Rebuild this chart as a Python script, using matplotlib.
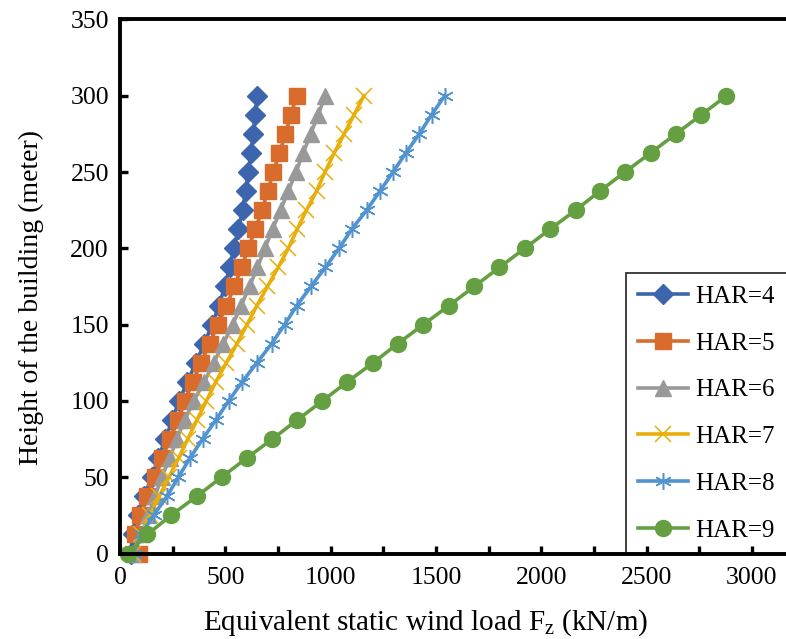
import matplotlib.pyplot as plt
from matplotlib.ticker import MultipleLocator

plt.rcParams['font.family'] = ['Liberation Serif', 'DejaVu Serif']
plt.rcParams['mathtext.fontset'] = 'custom'
plt.rcParams['mathtext.rm'] = 'Liberation Serif'

# heights of the building (m)
height = [0, 12.5, 25, 37.5, 50, 62.5, 75, 87.5, 100, 112.5, 125, 137.5, 150,
          162.5, 175, 187.5, 200, 212.5, 225, 237.5, 250, 262.5, 275, 287.5, 300]

# equivalent static wind load (kN/m) for each HAR
har4 = [50, 60, 85, 115, 150, 182, 215, 248, 280, 320, 360, 400, 437,
        470, 497, 520, 540, 562, 582, 596, 609, 622, 633, 642, 651]
har5 = [90, 72, 95, 127, 166, 201, 237, 277, 308, 345, 385, 425, 465,
        505, 543, 577, 609, 642, 674, 701, 728, 757, 785, 812, 838]
har6 = [60, 103, 134, 166, 198, 237, 269, 308, 350, 400, 445, 490, 535,
        575, 615, 652, 688, 724, 762, 799, 835, 870, 905, 941, 974]
har7 = [60, 100, 142, 186, 232, 278, 322, 365, 410, 455, 505, 555, 603,
        650, 700, 751, 799, 841, 885, 933, 973, 1017, 1064, 1111, 1158]
har8 = [65, 100, 160, 223, 277, 332, 392, 455, 516, 580, 650, 720, 781,
        840, 906, 975, 1040, 1100, 1171, 1234, 1296, 1357, 1421, 1479, 1542]
har9 = [36, 130, 242, 364, 482, 601, 723, 841, 961, 1079, 1202, 1318, 1440,
        1562, 1682, 1801, 1922, 2041, 2163, 2278, 2397, 2519, 2639, 2760, 2879]

labels = ["HAR=4", "HAR=5", "HAR=6", "HAR=7", "HAR=8", "HAR=9"]
colors = ["#3D65AE", "#D96C2C", "#999999", "#E8AF0A", "#5193CF", "#64A042"]


def create_visualization():
    fig = plt.figure(figsize=(7.86, 6.39), dpi=100)
    ax = fig.add_axes([0.1527, 0.1338, 0.8575, 0.8357])

    series = [har4, har5, har6, har7, har8, har9]
    styles = [
        dict(marker='D', markersize=10),
        dict(marker='s', markersize=11),
        dict(marker='^', markersize=11.5),
        dict(marker='x', markersize=11, markeredgewidth=1.1),
        dict(marker=(6, 2, 0), markersize=12, markeredgewidth=1.1),
        dict(marker='o', markersize=11.5),
    ]
    for vals, lab, col, st in zip(series, labels, colors, styles):
        ax.plot(vals, height, color=col, linewidth=2.6, label=lab,
                markerfacecolor=col, markeredgecolor=col, clip_on=False, **st)

    ax.set_xlim(0, 3200)
    ax.set_ylim(0, 350)
    ax.xaxis.set_major_locator(MultipleLocator(500))
    ax.xaxis.set_minor_locator(MultipleLocator(250))
    ax.yaxis.set_major_locator(MultipleLocator(50))

    for side in ['left', 'bottom', 'top']:
        ax.spines[side].set_linewidth(2.8)
    ax.spines['right'].set_visible(False)
    ax.tick_params(which='both', direction='in', length=5.5, width=2.4,
                   labelsize=18.5, top=False, right=False)
    ax.tick_params(axis='x', pad=10)
    ax.tick_params(axis='y', pad=8)

    # axis titles (Excel centres them a little off the plot middle)
    ax.set_xlabel(r"Equivalent static wind load $\mathregular{F_z}$ (kN/m)",
                  fontsize=21, labelpad=13)
    ax.xaxis.label.set_x(0.454)
    ax.set_ylabel("Height of the building (meter)", fontsize=20, labelpad=19)
    ax.yaxis.label.set_y(0.48)

    leg = ax.legend(loc='upper left', bbox_to_anchor=(0.7964, 0.5728),
                    bbox_transform=fig.transFigure, fontsize=18, numpoints=1,
                    frameon=True, fancybox=False, borderaxespad=0,
                    handlelength=2.0, handletextpad=0.25, labelspacing=0.97,
                    borderpad=0.5)
    leg.get_frame().set_edgecolor('black')
    leg.get_frame().set_linewidth(1.3)
    # keep the bottom spine and its ticks on top of the legend box
    leg.set_zorder(1.4)

    plt.savefig("out.png", dpi=100)
    print("Visualization saved to out.png")


if __name__ == "__main__":
    create_visualization()
